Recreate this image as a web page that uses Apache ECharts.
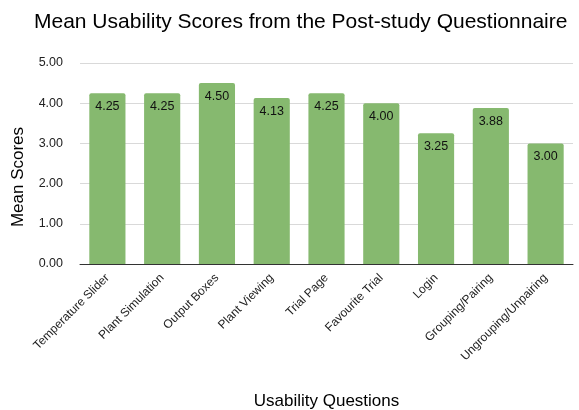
<!DOCTYPE html>
<html><head><meta charset="utf-8">
<script src="https://cdn.jsdelivr.net/npm/echarts@6/dist/echarts.min.js"></script>
<style>html,body{margin:0;padding:0;background:#fff}#c{width:579px;height:410px}</style>
</head><body><div id="c"></div>
<script>
const categories = ["Temperature Slider","Plant Simulation","Output Boxes","Plant Viewing","Trial Page","Favourite Trial","Login","Grouping/Pairing","Ungrouping/Unpairing"];
const scores = [4.25, 4.25, 4.50, 4.13, 4.25, 4.00, 3.25, 3.88, 3.00];
const yTicks = [0, 1, 2, 3, 4, 5];

const FONT = 'Liberation Sans, Arial, sans-serif';
const chart = echarts.init(document.getElementById('c'), null, {renderer: 'canvas'});
chart.setOption({
  animation: false,
  textStyle: {fontFamily: FONT},
  title: {
    text: 'Mean Usability Scores from the Post-study Questionnaire',
    left: 29, top: 7,
    textStyle: {fontSize: 21, fontWeight: 'normal', color: '#000', fontFamily: FONT}
  },
  graphic: [{
    type: 'text', x: 18, y: 177, rotation: Math.PI / 2,
    style: {text: 'Mean Scores', fontSize: 17, fill: '#000', fontFamily: FONT, align: 'center', verticalAlign: 'middle'}
  }],
  grid: {left: 80, right: 6, top: 63, bottom: 146, containLabel: false, outerBoundsMode: 'none'},
  xAxis: {
    type: 'category', data: categories,
    name: 'Usability Questions', nameLocation: 'middle', nameGap: 129,
    nameTextStyle: {fontSize: 17, color: '#000'},
    axisTick: {show: false},
    axisLine: {lineStyle: {color: '#333', width: 1}},
    axisLabel: {rotate: 45, fontSize: 12, color: '#222', margin: 12, interval: 0}
  },
  yAxis: {
    type: 'value', min: yTicks[0], max: yTicks[yTicks.length-1], interval: 1,
    axisLabel: {formatter: v => v.toFixed(2), fontSize: 12.5, color: '#222', margin: 17},
    splitLine: {lineStyle: {color: '#d9d9d9'}},
    axisLine: {show: false}, axisTick: {show: false}
  },
  series: [{
    type: 'bar', data: scores, barWidth: '66%',
    itemStyle: {color: '#86b96f', borderRadius: [2,2,0,0]},
    label: {show: true, position: 'insideTop', offset: [0, 2], formatter: p => p.value.toFixed(2), fontSize: 12.5, color: '#111'}
  }]
});
</script></body></html>
